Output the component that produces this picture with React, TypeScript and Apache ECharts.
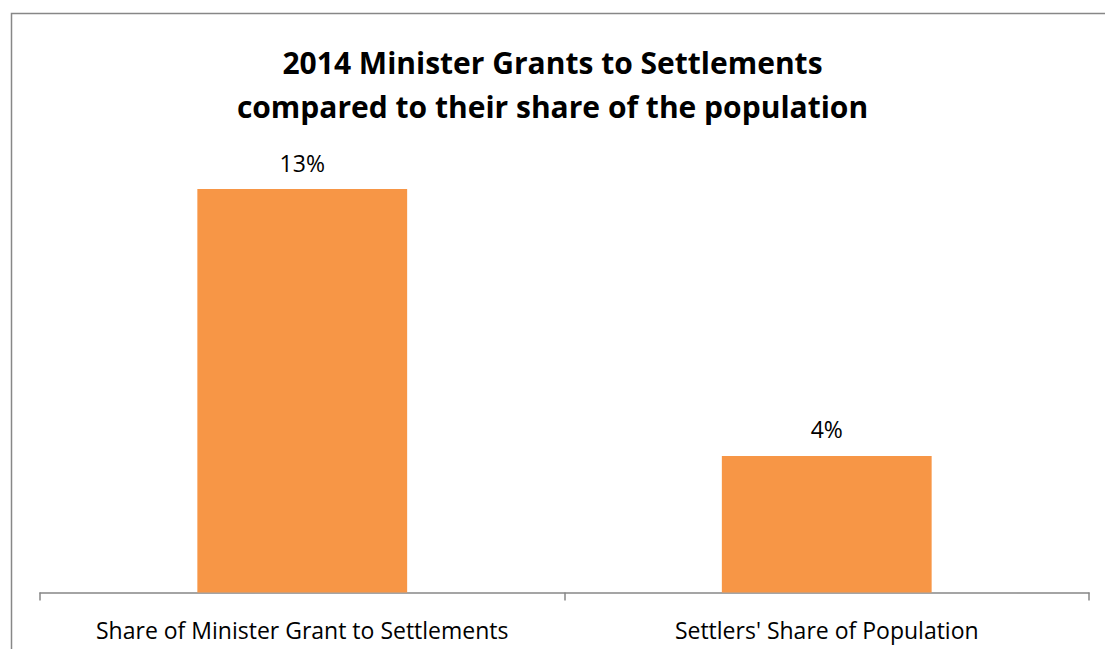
import React, { useEffect, useRef } from "react";
import * as echarts from "echarts";

const categories = ["Share of Minister Grant to Settlements", "Settlers' Share of Population"];
const values = [13.0, 4.4];
const titleLines = ["2014 Minister Grants to Settlements", "compared to their share of the population"];

export default function App() {
  const ref = useRef<HTMLDivElement>(null);
  useEffect(() => {
    if (!ref.current) return;
    const chart = echarts.init(ref.current, null, { renderer: "svg" });
    const font = "'Open Sans', sans-serif";
    chart.setOption({
      animation: false,
      backgroundColor: "#ffffff",
      title: {
        text: titleLines.join("\n"),
        left: "center",
        top: 35,
        textStyle: { fontFamily: font, fontWeight: "bold", fontSize: 30, color: "#000", lineHeight: 44 },
      },
      graphic: [
        {
          type: "rect",
          shape: { x: 11.5, y: 13.5, width: 1200, height: 800 },
          style: { fill: "none", stroke: "#878787", lineWidth: 1.5 },
          silent: true,
        },
      ],
      grid: { left: 40, right: 16, top: 158, bottom: 56.5 },
      xAxis: {
        type: "category",
        data: categories,
        boundaryGap: true,
        axisLine: { show: true, lineStyle: { color: "#878787", width: 1.5 } },
        axisTick: { show: true, interval: 0, length: 8, lineStyle: { color: "#878787", width: 1.5 } },
        axisLabel: { interval: 0, hideOverlap: false, fontFamily: font, fontSize: 23, color: "#000", margin: 26 },
      },
      yAxis: {
        type: "value",
        min: 0,
        max: 14,
        show: false,
        splitLine: { show: false },
      },
      series: [
        {
          type: "bar",
          data: values,
          barWidth: "40%",
          itemStyle: { color: "#F79646" },
          label: {
            show: true,
            position: "top",
            distance: 15,
            fontFamily: font,
            fontSize: 23,
            color: "#000",
            formatter: (p: any) => Math.round(p.value) + "%",
          },
        },
      ],
    });
    return () => chart.dispose();
  }, []);
  return <div ref={ref} style={{ position: "fixed", left: 0, top: 0, width: 1105, height: 649 }} />;
}
